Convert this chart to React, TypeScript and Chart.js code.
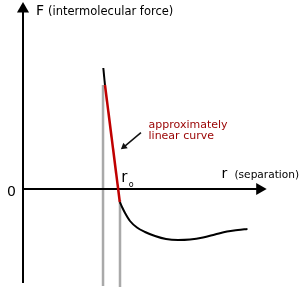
import React, { useEffect, useRef } from 'react';
import { Chart, registerables } from 'chart.js';

Chart.register(...registerables);

// Force curve: r in units of r0, F in arbitrary units
const upperR = [0.828, 0.845];
const upperF = [2.42, 2.08];
const linearR = [0.845, 0.998];
const linearF = [2.08, -0.26];
const lowerR = [0.998, 1.021, 1.052, 1.103, 1.175, 1.258, 1.361, 1.474, 1.598, 1.722, 1.856, 1.979, 2.103, 2.216, 2.314];
const lowerF = [-0.26, -0.36, -0.48, -0.64, -0.77, -0.86, -0.94, -1.0, -1.02, -1.01, -0.97, -0.91, -0.85, -0.82, -0.8];

// Grey guide lines bounding the linear region
const guideR = [0.825, 1.0];
const guideTopF = [2.08, -0.22];
const guideBottomF = [-1.94, -1.96];

// Axes
const yAxisR = [0, 0];
const yAxisF = [3.54, -1.88];
const xAxisR = [0, 2.412];
const xAxisF = [0, 0];
const yArrowHead = { r: 0, F: 3.6 };
const xArrowHead = { r: 2.44, F: 0 };

// Annotation arrow
const noteArrowR = [1.216, 1.041];
const noteArrowF = [1.126, 0.844];

// Text
const yTitle = ['F', '(intermolecular force)'];
const xTitle = ['r', '(separation)'];
const zeroLabel = '0';
const noteLines = ['approximately', 'linear curve'];
const r0Label = ['r', 'o'];

const pts = (xs: number[], ys: number[]) => xs.map((x, i) => ({ x, y: ys[i] }));

const FONT = '"DejaVu Sans", Verdana, sans-serif';

const textPlugin = {
  id: 'diagramText',
  afterDatasetsDraw(chart: any) {
    const { ctx, scales } = chart;
    const X = (v: number) => scales.x.getPixelForValue(v);
    const Y = (v: number) => scales.y.getPixelForValue(v);
    const put = (t: string, r: number, f: number, size: number, color: string, align: CanvasTextAlign = 'left') => {
      ctx.save();
      ctx.font = `${size}px ${FONT}`;
      ctx.fillStyle = color;
      ctx.textAlign = align;
      ctx.textBaseline = 'alphabetic';
      ctx.fillText(t, X(r), Y(f));
      ctx.restore();
    };
    put(yTitle[0], 0.134, 3.48, 14, '#000');
    put(yTitle[1], 0.258, 3.48, 11.5, '#000');
    put(xTitle[0], 2.046, 0.23, 14, '#000');
    put(xTitle[1], 2.18, 0.22, 10.6, '#000');
    put(zeroLabel, -0.072, -0.14, 14, '#000', 'right');
    put(noteLines[0], 1.294, 1.22, 11, '#990000');
    put(noteLines[1], 1.294, 1.0, 11, '#990000');
    put(r0Label[0], 1.012, 0.14, 15, '#000');
    put(r0Label[1], 1.09, 0.05, 8, '#000');
  },
};

export default function App() {
  const ref = useRef<HTMLCanvasElement>(null);
  useEffect(() => {
    if (!ref.current) return;
    const line = (data: any, color: string, width: number, order: number) => ({
      data,
      showLine: true,
      borderColor: color,
      borderWidth: width,
      pointRadius: 0,
      fill: false,
      order,
    });
    const chart = new Chart(ref.current, {
      type: 'scatter',
      data: {
        datasets: [
          line(pts([guideR[0], guideR[0]], [guideTopF[0], guideBottomF[0]]), '#a9a9a9', 2.5, 10),
          line(pts([guideR[1], guideR[1]], [guideTopF[1], guideBottomF[1]]), '#a9a9a9', 2.5, 10),
          line(pts(yAxisR, yAxisF), '#000', 2, 8),
          line(pts(xAxisR, xAxisF), '#000', 2, 8),
          {
            data: [{ x: yArrowHead.r, y: yArrowHead.F }],
            pointStyle: 'triangle',
            pointRadius: 7,
            rotation: 0,
            backgroundColor: '#000',
            borderColor: '#000',
            borderWidth: 0,
            order: 7,
          },
          {
            data: [{ x: xArrowHead.r, y: xArrowHead.F }],
            pointStyle: 'triangle',
            pointRadius: 7,
            rotation: 90,
            backgroundColor: '#000',
            borderColor: '#000',
            borderWidth: 0,
            order: 7,
          },
          { ...line(pts(upperR, upperF), '#000', 2, 5) },
          { ...line(pts(lowerR, lowerF), '#000', 2, 5), tension: 0.4, cubicInterpolationMode: 'monotone' },
          line(pts(linearR, linearF), '#c00000', 2.5, 4),
          line(pts(noteArrowR, noteArrowF), '#111', 1.5, 3),
          {
            data: [{ x: noteArrowR[1], y: noteArrowF[1] }],
            pointStyle: 'triangle',
            pointRadius: 4,
            rotation: 231.7,
            backgroundColor: '#111',
            borderColor: '#111',
            borderWidth: 0,
            order: 3,
          },
        ] as any,
      },
      options: {
        responsive: false,
        animation: false,
        events: [],
        layout: { padding: 0, autoPadding: false },
        plugins: { legend: { display: false }, tooltip: { enabled: false } },
        scales: {
          x: { type: 'linear', display: false, min: -23 / 97, max: 277 / 97 },
          y: { type: 'linear', display: false, min: -2.06, max: 3.78 },
        },
      },
      plugins: [textPlugin],
    } as any);
    return () => chart.destroy();
  }, []);
  return (
    <div style={{ position: 'absolute', left: 0, top: 0, width: 300, height: 292, background: '#fff' }}>
      <canvas ref={ref} width={300} height={292} />
    </div>
  );
}
